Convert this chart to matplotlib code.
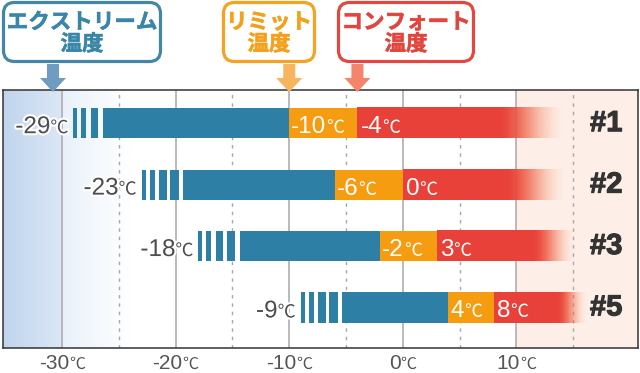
import numpy as np
import matplotlib
matplotlib.use('Agg')
import matplotlib.pyplot as plt
import matplotlib.patheffects as pe
from matplotlib.patches import FancyBboxPatch, Polygon
from matplotlib.transforms import Affine2D, offset_copy, blended_transform_factory
from matplotlib.colors import to_rgb

JP = ['Noto Sans CJK JP', 'DejaVu Sans']
NUM = ['Liberation Sans', 'DejaVu Sans']

# data
rows = ['#1', '#2', '#3', '#5']
extreme = [-29, -23, -18, -9]
limit = [-10, -6, -2, 4]
comfort = [-4, 0, 3, 8]
bar_end = [14.4, 14.5, 15.3, 16.2]   # where the red bar has faded out
fade_len = [5.8, 5.3, 3.8, 2.6]
n_stripes = [3, 4, 4, 4]
tick_vals = [-30, -20, -10, 0, 10]
callout_text = ['エクストリーム\n温度', 'リミット\n温度', 'コンフォート\n温度']
callout_at = [-30.8, limit[0], comfort[0]]

BLUE = '#2d7fa6'
ORANGE = '#f59c10'
RED = '#e8413a'
H = 0.49
stripes = [(0, 0.35), (0.7, 1.15), (1.55, 2.2), (2.5, 3.25)]

fig = plt.figure(figsize=(6.4, 3.73), dpi=100)
ax = fig.add_axes([3 / 640, 25 / 373, 635 / 640, 258 / 373])
renderer = fig.canvas.get_renderer()
XMIN, XMAX = -35.2, 20.7
YMIN, YMAX = 3.66, -0.54

# background: blue fade on the left, peach on the right
xs = np.linspace(XMIN, -24, 400)
ca, cb, cc = np.array(to_rgb('#c0d5ee')), np.array(to_rgb('#dbe7f5')), np.array(to_rgb('#e7f0fa'))
bg = np.zeros((1, len(xs), 3))
for k, x in enumerate(xs):
    if x < -30:
        t = (x - XMIN) / (-30 - XMIN)
        bg[0, k] = ca + (cb - ca) * t
    else:
        t = (x + 30) / 6
        bg[0, k] = cc + (1 - cc) * t ** 0.8
ax.imshow(bg, extent=(XMIN, -24, YMIN, YMAX), aspect='auto', zorder=0, interpolation='bilinear')
ax.axvspan(10, XMAX, color='#fdefe7', zorder=0, lw=0)

for v in range(-30, 20, 5):
    if v % 10 == 0:
        ax.axvline(v, color='#b4b4b4', lw=1.3, zorder=1)
    else:
        ax.axvline(v, color='#a8a8a8', lw=1.0, ls=(0, (2.5, 3.5)), zorder=1)

# bars
c0, c1 = np.array(to_rgb(RED)), np.array(to_rgb('#f46a45'))
for i in range(len(rows)):
    s = stripes[:n_stripes[i]]
    for a, b in s:
        ax.barh(i, b - a, left=extreme[i] + a, height=H, color=BLUE, lw=0, zorder=3)
    main = extreme[i] + s[-1][1] + 0.4
    ax.barh(i, limit[i] - main, left=main, height=H, color=BLUE, lw=0, zorder=3)
    ax.barh(i, comfort[i] - limit[i], left=limit[i], height=H, color=ORANGE, lw=0, zorder=3)
    # red part: solid, then fading out towards bar_end
    f = (bar_end[i] - fade_len[i] - comfort[i]) / (bar_end[i] - comfort[i])
    t = np.linspace(0, 1, 400)
    u = np.clip((t - f) / (1 - f), 0, 1)
    grad = np.zeros((1, len(t), 4))
    grad[0, :, :3] = c0 + (c1 - c0) * np.clip(u * 1.6, 0, 1)[:, None]
    grad[0, :, 3] = 0.5 * (1 + np.cos(np.pi * u))
    ax.imshow(grad, extent=(comfort[i], bar_end[i], i + H / 2, i - H / 2), aspect='auto',
              zorder=3, interpolation='bilinear')
    ax.text(17.9, i, rows[i], ha='center', va='center', fontsize=21, fontweight='bold',
            color='#333333', family=NUM, zorder=6,
            path_effects=[pe.withStroke(linewidth=0.8, foreground='#333333')])

ax.set_xlim(XMIN, XMAX)
ax.set_ylim(YMIN, YMAX)
ax.set_xticks([])
ax.set_yticks([])
for sp in ax.spines.values():
    sp.set_color('#333333')
    sp.set_linewidth(1.1)
    sp.set_zorder(7)


def num_unit(x, y, num, color, size, usize, ha, trans, dx=0, dy=0, halo=False):
    t1 = ax.text(x, y, num, fontsize=size, color=color, ha='left', va='baseline', family=NUM, zorder=6)
    t2 = ax.text(x, y, '℃', fontsize=usize, color=color, ha='left', va='baseline', family=JP, zorder=6)
    w1 = t1.get_window_extent(renderer).width
    w2 = t2.get_window_extent(renderer).width
    if ha == 'left':
        x0 = 0
    elif ha == 'right':
        x0 = -(w1 + w2)
    else:
        x0 = -(w1 + w2) / 2
    for tt, off in ((t1, x0), (t2, x0 + w1)):
        tt.set_transform(offset_copy(trans, fig=fig, x=off + dx, y=dy, units='dots'))
        tt.set_clip_on(False)
        if halo:
            tt.set_path_effects([pe.withStroke(linewidth=3, foreground='white')])


for i in range(len(rows)):
    num_unit(extreme[i], i, str(extreme[i]), '#4d4d4d', 17.5, 13, 'right', ax.transData, dx=-5, dy=-10, halo=True)
    num_unit(limit[i], i, str(limit[i]), 'white', 17.5, 13, 'left', ax.transData, dx=2, dy=-10)
    num_unit(comfort[i], i, str(comfort[i]), 'white', 17.5, 13, 'left', ax.transData, dx=3, dy=-10)

tick_tr = blended_transform_factory(ax.transData, ax.transAxes)
for v in tick_vals:
    num_unit(v, 0, str(v), '#555555', 15, 11.5, 'center', tick_tr, dy=-21)

# callout boxes and arrows, in pixel coordinates (origin top-left)
px = Affine2D().scale(1 / 640, -1 / 373).translate(0, 1) + fig.transFigure
boxes = [(2, 162), (222, 316), (337, 475)]
box_colors = ['#4486a6', '#f5a321', '#e2483f']
text_colors = ['#3a86a8', '#f5a01a', '#e2453d']
arrow_colors = ['#6f9cc1', '#f8b560', '#f5846c']
for k in range(3):
    x0, x1 = boxes[k]
    fig.patches.append(FancyBboxPatch((x0 + 1.5, 2.5), x1 - x0 - 3, 59, boxstyle='round,pad=0,rounding_size=11',
                                      fc='white', ec=box_colors[k], lw=2.3, transform=px, zorder=5))
    fig.text((x0 + x1) / 2 / 640, 1 - 33 / 373, callout_text[k], ha='center', va='center', fontsize=15.5,
             fontweight='bold', color=text_colors[k], family=JP, linespacing=1.05, zorder=6,
             path_effects=[pe.withStroke(linewidth=0.4, foreground=text_colors[k])])
    cx = ax.transData.transform((callout_at[k], 0))[0]
    pts = [(cx - 6, 64), (cx + 6, 64), (cx + 6, 78), (cx + 13, 78), (cx, 92),
           (cx - 13, 78), (cx - 6, 78)]
    fig.patches.append(Polygon(pts, closed=True, fc=arrow_colors[k], ec='none', transform=px, zorder=8))

fig.savefig('out.png', dpi=100)
